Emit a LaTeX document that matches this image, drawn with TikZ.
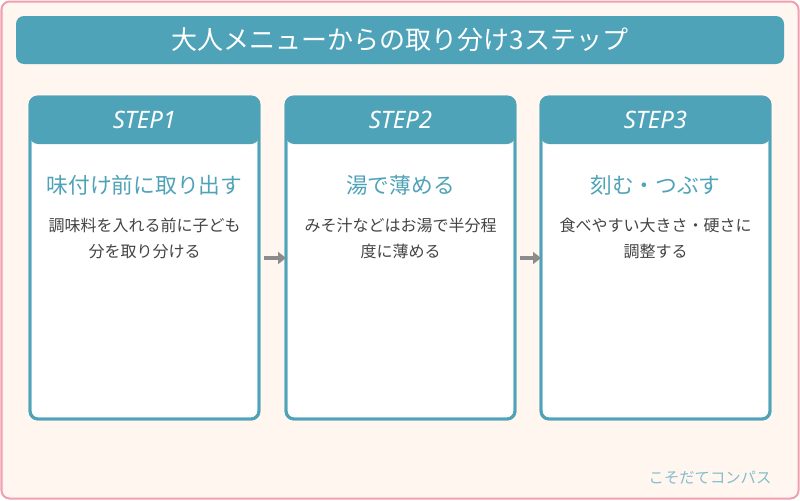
\documentclass[tikz,border=0pt]{standalone}
\usepackage{fontspec}
\setmainfont{Noto Sans CJK JP}
\newfontfamily\latinit{Noto Sans}
\usetikzlibrary{positioning,arrows.meta}
\definecolor{cardteal}{HTML}{4FA3B8}
\definecolor{cream}{HTML}{FFF6F0}
\definecolor{pinkline}{HTML}{F0A0B0}
\definecolor{bodytext}{HTML}{444444}
\tikzset{
  card/.style={draw=cardteal, line width=2.2pt, fill=white, rounded corners=6pt},
  head/.style={fill=cardteal, rounded corners=6pt},
  steplabel/.style={text=white, font=\latinit\itshape\fontsize{18}{20}\selectfont},
  ttl/.style={text=cardteal, font=\fontsize{16.3}{18}\selectfont},
  body/.style={text=bodytext, font=\fontsize{12}{19.5}\selectfont, align=center},
  flow/.style={draw=gray!90, line width=3pt, -{Triangle[length=6pt,width=9pt]}}
}
\begin{document}
\begin{tikzpicture}[x=0.75pt,y=-0.75pt]
\useasboundingbox (0,0) rectangle (800,500);
\draw[pinkline, fill=cream, line width=1.5pt, rounded corners=6pt] (1.5,1.5) rectangle (798.5,498.5);
\fill[cardteal, rounded corners=6pt] (16,16) rectangle (784,64);
\node[text=white, font=\fontsize{19.5}{22}\selectfont] (title) at (400,40) {大人メニューからの取り分け3ステップ};
\foreach \i/\x/\s/\t/\b in {1/30/STEP1/味付け前に取り出す/{調味料を入れる前に子ども\\分を取り分ける},
  2/286/STEP2/湯で薄める/{みそ汁などはお湯で半分程\\度に薄める},
  3/541/STEP3/刻む・つぶす/{食べやすい大きさ・硬さに\\調整する}}{
  \draw[card] (\x,97) rectangle ++(229,322);
  \fill[head] (\x,97) rectangle ++(229,47);
  \draw[cardteal, line width=2.2pt, rounded corners=6pt] (\x,97) rectangle ++(229,322);
  \node[steplabel] (s\i) at (\x+114.5,120) {\s};
  \node[ttl] (t\i) at (\x+114.5,185) {\t};
  \node[body, below=10pt of t\i] (b\i) {\b};
}
\coordinate (a1) at (264,258); \coordinate (a2) at (520,258);
\draw[flow] (a1) -- ++(22,0);
\draw[flow] (a2) -- ++(21,0);
\node[text=cardteal!70, font=\fontsize{11.5}{13}\selectfont] (brand) at (710,478) {こそだてコンパス};
\end{tikzpicture}
\end{document}
